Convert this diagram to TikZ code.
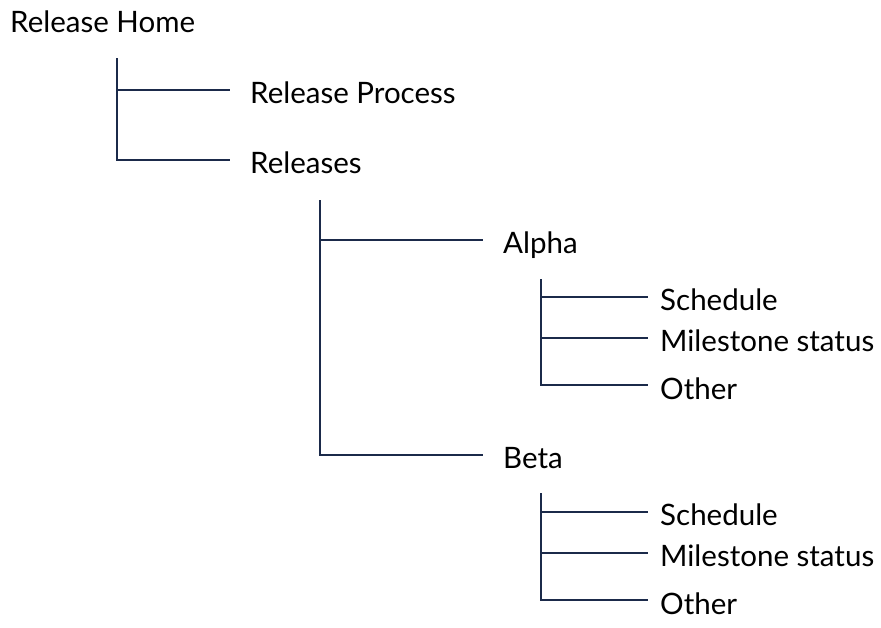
\documentclass[tikz,border=0pt]{standalone}
\usepackage{fontspec}
\setmainfont{Lato}
\begin{document}
\begin{tikzpicture}[x=1pt,y=-1pt,
  lbl/.style={anchor=base west,inner sep=0pt,font=\fontsize{29.5}{34}\selectfont,text=black},
  tree/.style={draw=navy,line width=1.6pt}]
\definecolor{navy}{HTML}{1B2A4A}
\useasboundingbox (0,0) rectangle (881,627);
% labels
\node[lbl] (home) at (10,32) {Release Home};
\node[lbl] (proc) at (250,103) {Release Process};
\node[lbl] (rels) at (250,173) {Releases};
\node[lbl] (alpha) at (503,253) {Alpha};
\node[lbl] (beta) at (503,468) {Beta};
\node[lbl] (as) at (660,310) {Schedule};
\node[lbl] (am) at (660,351) {Milestone status};
\node[lbl] (ao) at (660,399) {Other};
\node[lbl] (bs) at (660,525) {Schedule};
\node[lbl] (bm) at (660,566) {Milestone status};
\node[lbl] (bo) at (660,614) {Other};
% tree 1
\coordinate (t1) at (117,58);
\coordinate (p1) at (230,90);
\coordinate (p2) at (230,160);
\draw[tree] (t1) |- (p2);
\draw[tree] (t1 |- p1) -- (p1);
% tree 2
\coordinate (t2) at (320,200);
\coordinate (q1) at (483,240);
\coordinate (q2) at (483,455);
\draw[tree] (t2) |- (q2);
\draw[tree] (t2 |- q1) -- (q1);
% tree 3
\coordinate (t3) at (541,279);
\coordinate (r1) at (648,297);
\coordinate (r2) at (648,338);
\coordinate (r3) at (648,385);
\draw[tree] (t3) |- (r3);
\draw[tree] (t3 |- r1) -- (r1);
\draw[tree] (t3 |- r2) -- (r2);
% tree 4
\coordinate (t4) at (541,493);
\coordinate (s1) at (648,512);
\coordinate (s2) at (648,553);
\coordinate (s3) at (648,600);
\draw[tree] (t4) |- (s3);
\draw[tree] (t4 |- s1) -- (s1);
\draw[tree] (t4 |- s2) -- (s2);
\end{tikzpicture}
\end{document}
